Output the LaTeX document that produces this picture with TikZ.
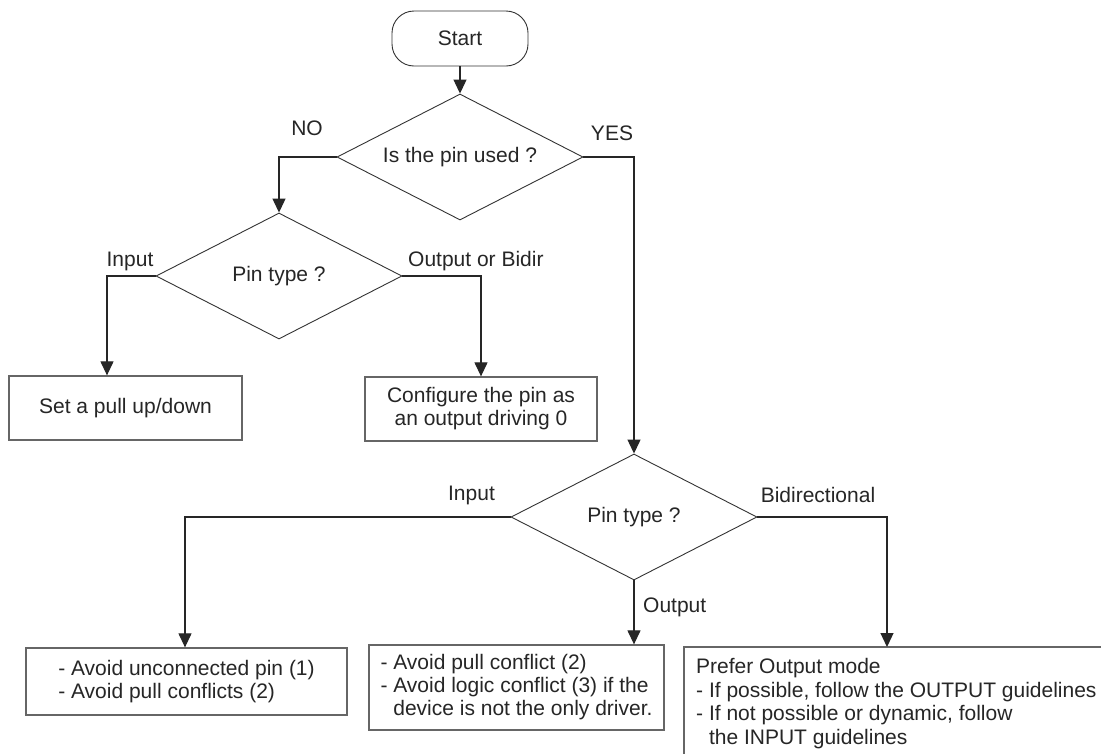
\documentclass[tikz,border=0pt]{standalone}
\usepackage{fontspec}
\setmainfont{Liberation Sans}
\usetikzlibrary{shapes.geometric,arrows.meta}
\begin{document}
\begin{tikzpicture}[x=1pt,y=-1pt,
  every node/.style={font=\fontsize{21pt}{23pt}\selectfont, text=black!85},
  conn/.style={draw=black!85, line width=1.2pt},
  arr/.style={conn, -{Triangle[length=14pt,width=13pt]}},
  decision/.style={diamond, draw=black!80, line width=0.9pt, minimum width=246pt, minimum height=126pt, inner sep=0pt, aspect=1.95},
  procbox/.style={rectangle, draw=black!60, line width=1.3pt, inner sep=0pt, align=left},
  boxline/.style={draw=black!60, line width=1.3pt},
  terminal/.style={rectangle, rounded corners=22pt, draw=black!80, line width=0.9pt, minimum width=136pt, minimum height=55pt},
  lbl/.style={inner sep=0pt}]
\useasboundingbox (0,0) rectangle (1101,753);
\clip (0,0) rectangle (1101,753);
\fill[white] (0,0) rectangle (1101,753);

% nodes
\node[terminal] (start) at (460,38.5) {Start};
\node[decision] (d1) at (460,157) {Is the pin used ?};
\node[decision] (d2) at (279,276) {Pin type ?};
\node[decision] (d3) at (634,517) {Pin type ?};

\node[procbox, align=center, minimum width=233pt, minimum height=64pt] (b1) at (125.5,408) {Set a pull up/down};
\node[procbox, align=center, minimum width=232pt, minimum height=64pt] (b2) at (481,409) {Configure the pin as\\an output driving 0};
\node[procbox, minimum width=321pt, minimum height=67pt] (b4) at (186.5,681.5) {- Avoid unconnected pin (1)\\- Avoid pull conflicts (2)};
\node[procbox, minimum width=295pt, minimum height=85pt] (b5) at (516.5,687.5) {- Avoid pull conflict (2)\\- Avoid logic conflict (3) if the\\\phantom{- }device is not the only driver.};
\node[lbl, anchor=north west, align=left, font=\fontsize{21pt}{23.7pt}\selectfont] (b6) at (696,658) {Prefer Output mode\\- If possible, follow the OUTPUT guidelines\\- If not possible or dynamic, follow\\\phantom{- }the INPUT guidelines};
\coordinate (b6top) at (887,647);
\draw[boxline] (1110,647) -- (684,647) -- (684,760);

% labels
\node[lbl] (lno) at (307,128) {NO};
\node[lbl] (lyes) at (612,133) {YES};
\node[lbl] (lin1) at (130,261) {Input};
\node[lbl, anchor=west] (lout1) at (408,261) {Output or Bidir};
\node[lbl] (lin2) at (471.5,495) {Input};
\node[lbl] (lbid) at (818,495) {Bidirectional};
\node[lbl, anchor=west] (lout2) at (643,607) {Output};

% connectors
\draw[arr] (start.south) -- (d1.north);
\draw[arr] (d1.west) -| (d2.north);
\draw[arr] (d1.east) -| (d3.north);
\draw[arr] (d2.west) -| ([xshift=-18.5pt]b1.north);
\draw[arr] (d2.east) -| (b2.north);
\draw[arr] (d3.west) -| ([xshift=-1.5pt]b4.north);
\draw[arr] (d3.south) -- (d3.south |- b5.north);
\draw[arr] (d3.east) -| (b6top);
\end{tikzpicture}
\end{document}
